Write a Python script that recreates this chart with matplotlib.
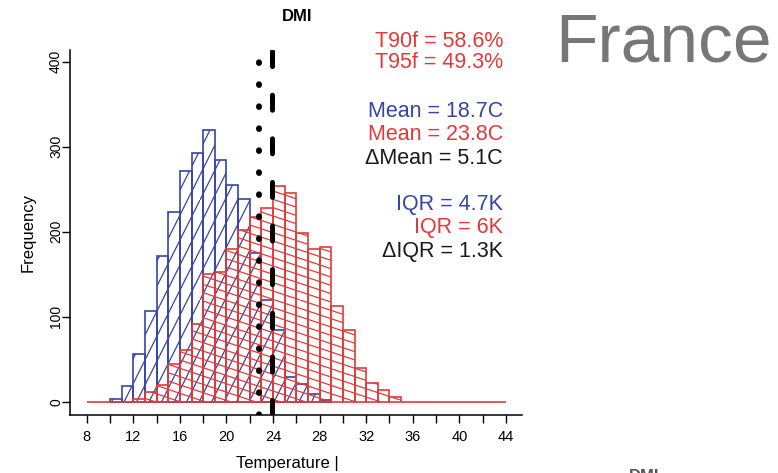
import numpy as np
import matplotlib
matplotlib.use("Agg")
import matplotlib.pyplot as plt
import matplotlib.hatch as mhatch
from matplotlib.path import Path

# ---------------- data ----------------
bin_width = 1
blue_first_bin = 10
blue_counts = [3, 19, 56, 107, 171, 223, 271, 293, 320, 284, 255, 238, 175,
               120, 84, 29, 21, 9, 2]
red_first_bin = 8
red_counts = [0, 0, 0, 0, 3, 11, 20, 44, 61, 91, 150, 153, 180, 202, 217, 228,
              254, 245, 199, 180, 182, 113, 84, 40, 22, 14, 6,
              0, 0, 0, 0, 0, 0, 0, 0, 0]
dotted_x = 22.8
dashed_x = 23.93
x_ticks = list(range(8, 45, 2))
x_ticklabels = [str(v) if v % 4 == 0 else "" for v in x_ticks]
y_ticks = [0, 100, 200, 300, 400]
stat_texts = ["T90f = 58.6%", "T95f = 49.3%", "Mean = 18.7C", "Mean = 23.8C",
              "\u0394Mean = 5.1C", "IQR = 4.7K", "IQR = 6K", "\u0394IQR = 1.3K"]
stat_kinds = ["red", "red", "blue", "red", "black", "blue", "red", "black"]

BLUE = "#3545A8"
RED = "#E23A3A"
BLACK = "#1a1a1a"
colors = {"red": RED, "blue": BLUE, "black": BLACK}

plt.rcParams["font.family"] = ["Liberation Sans", "DejaVu Sans"]
plt.rcParams["lines.scale_dashes"] = False
plt.rcParams["hatch.linewidth"] = 0.9


# ------- custom slanted hatch patterns (style only) -------
def _slant_segments(slope, n):
    segs = []
    cmin = min(0.0, -slope)
    cmax = max(1.0, 1.0 - slope)
    k0 = int(np.floor(cmin * n)) - 1
    k1 = int(np.ceil(cmax * n)) + 1
    for k in range(k0, k1 + 1):
        c = k / n
        a = (0 - c) / slope
        b = (1 - c) / slope
        x0 = max(0.0, min(a, b))
        x1 = min(1.0, max(a, b))
        if x1 - x0 > 1e-9:
            segs.append(((x0, slope * x0 + c), (x1, slope * x1 + c)))
    return segs


def _make_hatch(char, slope, n):
    class _Hatch:
        def __init__(self, hatch, density):
            self.segs = _slant_segments(slope, n) if (hatch and char in hatch) else []
            self.num_vertices = 2 * len(self.segs)

        def set_vertices_and_codes(self, vertices, codes):
            for i, (p, q) in enumerate(self.segs):
                vertices[2 * i] = p
                vertices[2 * i + 1] = q
                codes[2 * i] = Path.MOVETO
                codes[2 * i + 1] = Path.LINETO
    return _Hatch


mhatch._hatch_types = [_make_hatch("/", 2.0, 4), _make_hatch("\\", -1.0 / 3.0, 12)]

# ---------------- figure ----------------
W, H = 778, 473
fig = plt.figure(figsize=(W / 100, H / 100), dpi=100)
ax = fig.add_axes([70 / W, (H - 415) / H, 452 / W, 365 / H])

blue_edges = np.arange(len(blue_counts)) * bin_width + blue_first_bin
red_edges = np.arange(len(red_counts)) * bin_width + red_first_bin

ax.bar(blue_edges, blue_counts, width=bin_width, align="edge", fill=False,
       edgecolor=BLUE, linewidth=1.2, hatch="/", zorder=2)
ax.bar(red_edges, red_counts, width=bin_width, align="edge", fill=False,
       edgecolor=RED, linewidth=1.2, hatch="\\", zorder=3)

ax.axvline(dotted_x, color="black", lw=4.3, linestyle=(0, (0.5, 15.34)),
           dash_capstyle="round", zorder=5)
ax.axvline(dashed_x, color="black", lw=3.6, linestyle=(0, (10.8, 20.6)),
           dash_capstyle="round", zorder=5)

ax.set_xlim(6.566, 45.38)
ax.set_ylim(-15.65, 413.8)
for s in ("top", "right"):
    ax.spines[s].set_visible(False)
for s in ("left", "bottom"):
    ax.spines[s].set_linewidth(1.1)
    ax.spines[s].set_color("black")

ax.set_xticks(x_ticks)
ax.set_xticklabels(x_ticklabels, fontsize=10.5)
ax.set_yticks(y_ticks)
ax.set_yticklabels([str(v) for v in y_ticks], fontsize=10, rotation=90,
                   va="center")
ax.tick_params(axis="both", direction="out", length=5.5, width=1.0,
               color="black")
ax.tick_params(axis="x", pad=5)
ax.tick_params(axis="y", pad=-0.5)

ax.set_ylabel("Frequency", fontsize=12, rotation=90, ha="center", va="center")
ax.yaxis.set_label_coords(-0.093, 0.5)
ax.set_xlabel("Temperature |", fontsize=12, ha="center", va="center")
ax.xaxis.set_label_coords(0.48, -0.134)

# title
fig.text(297 / W, 1 - 21 / H, "DMI", fontsize=12, fontweight="bold",
         ha="center", va="baseline", color="black")

# statistics
baselines = [46.7, 68.3, 116.7, 140.0, 164.0, 210.0, 233.0, 257.0]
for txt, kind, yb in zip(stat_texts, stat_kinds, baselines):
    fig.text(503 / W, 1 - yb / H, txt, fontsize=15.5, color=colors[kind],
             ha="right", va="baseline")

# big region name
fig.text(555.5 / W, 1 - 61.7 / H, "France", fontsize=50, color="#777777",
         ha="left", va="baseline")

# partially visible title of the next panel (cut by the lower edge, as in the reference)
fig.text(644 / W, 1 - 481 / H, "DMI", fontsize=12, fontweight="bold",
         ha="center", va="baseline", color="#555555")

fig.savefig("out.png", dpi=100)
